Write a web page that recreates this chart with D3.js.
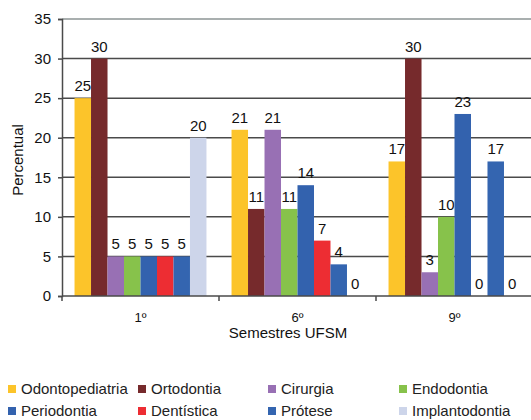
<!DOCTYPE html>
<html>
<head>
<meta charset="utf-8">
<script src="https://cdn.jsdelivr.net/npm/d3@7"></script>
<style>
  body { margin: 0; background: #fff; }
  text { font-family: "Liberation Sans", Arial, sans-serif; }
</style>
</head>
<body>
<script>
// categories / series / values
var semestres = ['1º', '6º', '9º'];
var areas = ['Odontopediatria', 'Ortodontia', 'Cirurgia', 'Endodontia',
             'Periodontia', 'Dentística', 'Prótese', 'Implantodontia'];
var cores = ['#fcc42a', '#762a2c', '#9870b4', '#87c24b',
             '#3362ae', '#ed2d33', '#3465b0', '#cdd5ea'];
var valores1 = [25, 30, 5, 5, 5, 5, 5, 20];
var valores6 = [21, 11, 21, 11, 14, 7, 4, 0];
var valores9 = [17, 30, 3, 10, 23, 0, 17, 0];
var yTicks = [0, 5, 10, 15, 20, 25, 30, 35];

var dados = [valores1, valores6, valores9];

var width = 531, height = 420;
var svg = d3.select('body').append('svg')
            .attr('width', width)
            .attr('height', height);

var x0 = d3.scaleBand().domain(semestres).range([62, 533]);
var x1 = d3.scaleBand().domain(areas).range([0, x0.bandwidth()])
           .paddingInner(0).paddingOuter(0.76);
var y = d3.scaleLinear().domain([0, 35]).range([296, 19]);

// gridlines
svg.append('g').selectAll('line')
   .data(yTicks.filter(function(d){ return d > 0; }))
   .enter().append('line')
   .attr('x1', 62).attr('x2', 531)
   .attr('y1', function(d){ return y(d); })
   .attr('y2', function(d){ return y(d); })
   .attr('stroke', function(d){ return d == 35 ? '#8c9494' : '#4a4a4a'; })
   .attr('stroke-width', 1.5);

// bars
var grupos = svg.append('g').selectAll('g')
   .data(dados)
   .enter().append('g')
   .attr('transform', function(d, i){ return 'translate(' + x0(semestres[i]) + ',0)'; });

grupos.selectAll('rect')
   .data(function(d){ return d.map(function(v, j){ return {area: areas[j], v: v, c: cores[j]}; }); })
   .enter().append('rect')
   .attr('x', function(d){ return x1(d.area); })
   .attr('width', x1.bandwidth())
   .attr('y', function(d){ return y(d.v); })
   .attr('height', function(d){ return y(0) - y(d.v); })
   .attr('fill', function(d){ return d.c; });

grupos.selectAll('text')
   .data(function(d){ return d.map(function(v, j){ return {area: areas[j], v: v}; }); })
   .enter().append('text')
   .attr('x', function(d){ return x1(d.area) + x1.bandwidth() / 2; })
   .attr('y', function(d){ return y(d.v) - 7; })
   .attr('text-anchor', 'middle')
   .attr('font-size', 15)
   .attr('fill', '#111')
   .text(function(d){ return d.v; });

// y axis
var yAxis = d3.axisLeft(y).tickValues(yTicks).tickSize(4).tickPadding(7);
var gy = svg.append('g').attr('transform', 'translate(62,0)').call(yAxis);
gy.select('.domain').attr('stroke', '#4a4a4a').attr('stroke-width', 1.5);
gy.selectAll('.tick line').attr('stroke', '#4a4a4a').attr('stroke-width', 1.5);
gy.selectAll('.tick text').attr('font-size', 15).attr('fill', '#111')
  .style('font-family', '"Liberation Sans", Arial, sans-serif');

// x axis
var gx = svg.append('g').attr('transform', 'translate(0,296)');
gx.append('line').attr('x1', 62).attr('x2', 531).attr('y1', 0).attr('y2', 0)
  .attr('stroke', '#4a4a4a').attr('stroke-width', 1.5);
gx.selectAll('.sep')
  .data(semestres)
  .enter().append('line')
  .attr('class', 'sep')
  .attr('x1', function(d){ return x0(d); })
  .attr('x2', function(d){ return x0(d); })
  .attr('y1', 0).attr('y2', 5)
  .attr('stroke', '#4a4a4a').attr('stroke-width', 1.5);
gx.selectAll('.lbl')
  .data(semestres)
  .enter().append('text')
  .attr('class', 'lbl')
  .attr('x', function(d){ return x0(d) + x0.bandwidth() / 2; })
  .attr('y', 26)
  .attr('text-anchor', 'middle')
  .attr('font-size', 13)
  .attr('fill', '#111')
  .text(function(d){ return d; });

svg.append('text')
   .attr('x', 288).attr('y', 338)
   .attr('text-anchor', 'middle')
   .attr('font-size', 15)
   .attr('fill', '#111')
   .text('Semestres UFSM');

svg.append('text')
   .attr('transform', 'translate(23,160) rotate(-90)')
   .attr('text-anchor', 'middle')
   .attr('font-size', 15)
   .attr('fill', '#111')
   .text('Percentual');

// legend: 2 rows of 4
var colX = [8, 138, 268, 399];
var rowY = [389, 411];
var leg = svg.append('g').selectAll('g')
   .data(areas)
   .enter().append('g')
   .attr('transform', function(d, i){ return 'translate(' + colX[i % 4] + ',' + rowY[Math.floor(i / 4)] + ')'; });
leg.append('rect')
   .attr('x', 0).attr('y', -4).attr('width', 8).attr('height', 8)
   .attr('fill', function(d, i){ return cores[i]; });
leg.append('text')
   .attr('x', 13).attr('y', 5)
   .attr('font-size', 15)
   .attr('fill', '#222')
   .text(function(d){ return d; });
</script>
</body>
</html>
